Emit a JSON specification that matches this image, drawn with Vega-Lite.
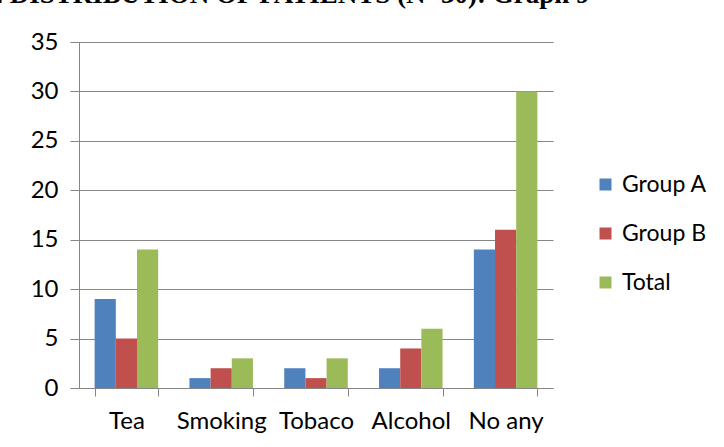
{
  "$schema": "https://vega.github.io/schema/vega-lite/v6.json",
  "width": 474,
  "height": 346,
  "autosize": {"type": "none"},
  "padding": {"left": 79, "top": 42, "right": 171, "bottom": 59},
  "background": "white",
  "title": {
    "text": "E DISTRIBUTION OF PATIENTS (N=30): Graph 9",
    "anchor": "start",
    "frame": "group",
    "font": "Liberation Serif",
    "fontSize": 27,
    "fontWeight": "bold",
    "color": "#000000",
    "baseline": "bottom",
    "offset": -6,
    "dx": -94
  },
  "data": {
    "values": [
      {"cat": "Tea", "group": "Group A", "value": 9},
      {"cat": "Tea", "group": "Group B", "value": 5},
      {"cat": "Tea", "group": "Total", "value": 14},
      {"cat": "Smoking", "group": "Group A", "value": 1},
      {"cat": "Smoking", "group": "Group B", "value": 2},
      {"cat": "Smoking", "group": "Total", "value": 3},
      {"cat": "Tobaco", "group": "Group A", "value": 2},
      {"cat": "Tobaco", "group": "Group B", "value": 1},
      {"cat": "Tobaco", "group": "Total", "value": 3},
      {"cat": "Alcohol", "group": "Group A", "value": 2},
      {"cat": "Alcohol", "group": "Group B", "value": 4},
      {"cat": "Alcohol", "group": "Total", "value": 6},
      {"cat": "No any", "group": "Group A", "value": 14},
      {"cat": "No any", "group": "Group B", "value": 16},
      {"cat": "No any", "group": "Total", "value": 30}
    ]
  },
  "mark": {"type": "bar"},
  "encoding": {
    "x": {
      "field": "cat",
      "type": "nominal",
      "sort": ["Tea", "Smoking", "Tobaco", "Alcohol", "No any"],
      "scale": {"paddingInner": 0.33, "paddingOuter": 0.165},
      "axis": {
        "title": null,
        "labelAngle": 0,
        "tickBand": "extent",
        "domainColor": "#868686",
        "tickColor": "#868686",
        "tickSize": 8,
        "labelPadding": 13,
        "labelFontSize": 24,
        "labelFont": "Lato",
        "labelColor": "#000000"
      }
    },
    "xOffset": {"field": "group", "type": "nominal", "sort": ["Group A", "Group B", "Total"]},
    "y": {
      "field": "value",
      "type": "quantitative",
      "scale": {"domain": [0, 35]},
      "axis": {
        "title": null,
        "values": [0, 5, 10, 15, 20, 25, 30, 35],
        "gridColor": "#868686",
        "domainColor": "#868686",
        "tickColor": "#868686",
        "tickSize": 9,
        "labelPadding": 12,
        "labelFontSize": 24,
        "labelFont": "Lato",
        "labelColor": "#000000"
      }
    },
    "color": {
      "field": "group",
      "type": "nominal",
      "scale": {"domain": ["Group A", "Group B", "Total"], "range": ["#4F81BD", "#C0504D", "#9BBB59"]},
      "legend": {
        "title": null,
        "orient": "none",
        "legendX": 515,
        "legendY": 131,
        "symbolType": "square",
        "symbolSize": 144,
        "symbolStrokeWidth": 0,
        "labelFontSize": 23,
        "labelFont": "Lato",
        "labelColor": "#000000",
        "labelOffset": 5,
        "rowPadding": 25
      }
    }
  },
  "config": {"view": {"stroke": null}}
}
